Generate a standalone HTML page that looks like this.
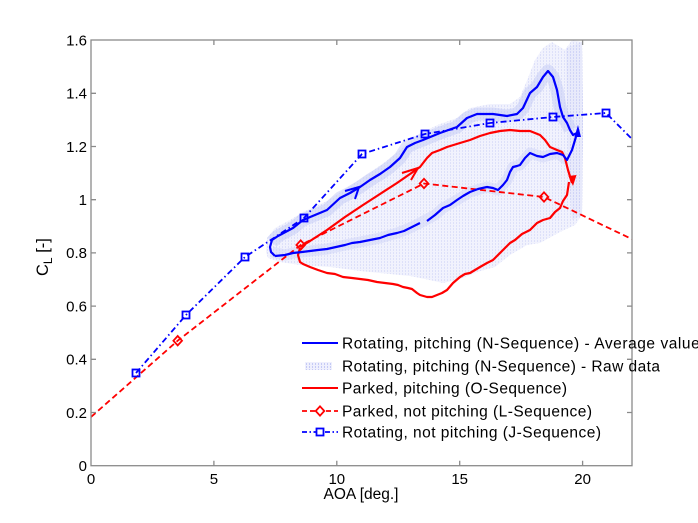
<!DOCTYPE html>
<html><head><meta charset="utf-8"><style>
html,body{margin:0;padding:0;background:#fff;}
svg{display:block;}
text{font-family:"Liberation Sans",Arial,sans-serif;fill:#000;}
</style></head><body>
<svg width="698" height="523" viewBox="0 0 698 523" xmlns="http://www.w3.org/2000/svg">
<defs>
<pattern id="vd" width="3" height="3" patternUnits="userSpaceOnUse">
<rect x="0" y="0" width="1" height="2" fill="#aab2f0" opacity="0.7"/>
</pattern>
<clipPath id="ax"><rect x="91" y="40" width="541" height="426"/></clipPath>
</defs>
<rect width="698" height="523" fill="#fff"/>

<g clip-path="url(#ax)">
<!-- raw data cloud -->
<polygon fill="#f1f2fd" points="266,252 267,238 275,228 290,220 303,212 327,201 345,189 365,176 385,162 400,150 420,133 440,124 457,118 470,108 490,104 510,104 520,97 528,78 535,60 543,48 552,42 565,50 572,40 582,42 583,120 582,215 575,225 560,232 540,243 527,245 510,255 495,267 477,272 460,279 443,283 425,279 410,276 380,273 360,271 330,267 300,265 280,262 268,258"/>
<polygon fill="url(#vd)" opacity="0.4" points="266,252 267,238 275,228 290,220 303,212 327,201 345,189 365,176 385,162 400,150 420,133 440,124 457,118 470,108 490,104 510,104 520,97 528,78 535,60 543,48 552,42 565,50 572,40 582,42 583,120 582,215 575,225 560,232 540,243 527,245 510,255 495,267 477,272 460,279 443,283 425,279 410,276 380,273 360,271 330,267 300,265 280,262 268,258"/>
<polygon fill="url(#vd)" opacity="0.8" points="566,48 582,42 583,120 582,215 572,220 568,160"/>
<polygon fill="#dfe2fa" opacity="0.5" points="566,48 582,42 583,120 582,215 572,220 568,160"/>
<polyline fill="none" stroke="#c3c9f5" stroke-width="13" opacity="0.5" stroke-linejoin="round" points="272,242 278,236 293,228 303,220 315,215 327,210 340,198 350,193 360,187 370,180 380,174 390,167 400,158 407,147 415,143 423,140 440,133 457,127 467,118 477,114 493,114 507,116 517,114 523,108 530,93 537,87 543,77 548,71 553,77 557,90 560,107 563,117 567,123 570,130"/>
<polyline fill="none" stroke="#ccd0f7" stroke-width="11" opacity="0.45" stroke-linejoin="round" points="272,252 285,255 293,253 310,251 327,249 345,245 360,242 380,238 397,233 410,228 420,223 435,215 443,208 457,200 470,192 487,187 498,190 507,180 513,167 520,165 530,153 543,157 557,153 567,160"/>

<!-- J sequence -->
<polyline fill="none" stroke="#0000ff" stroke-width="1.8" stroke-dasharray="6 3 1.5 3" points="136,373 186,315 245,257 304,218 362,154 425,134 490,123 553,117 606,113 640,147"/>
<!-- L sequence -->
<polyline fill="none" stroke="#ff0000" stroke-width="1.8" stroke-dasharray="6 3.5" points="91,417 177.7,340.7 300.7,245 424,183.5 544,197 640,243"/>

<!-- red loop (O sequence) -->
<polyline fill="none" stroke="#ff0000" stroke-width="2.2" stroke-linejoin="round" points="300,247 310,241 327,230 345,217 363,205 380,194 397,183 410,174 420,167 427,158 432,153 440,150 447,147 460,143 470,140 480,136 490,133 500,131 510,130 520,131 530,131 540,135 545,140 550,147 557,150 562,152 565,158 568,170 572,183"/>
<polyline fill="none" stroke="#ff0000" stroke-width="2.2" stroke-linejoin="round" points="569,182 567,195 563,201 560,208 555,212 550,218 543,220 537,223 530,230 522,234 515,240 510,243 503,250 497,256 493,260 487,263 480,267 470,273 465,274 460,277 453,283 447,290 442,293 437,295 432,297 427,297 420,295 417,293 412,289 408,288 403,287 398,285 393,284 385,283 377,282 368,280 360,279 352,278 343,277 335,274 327,273 318,270 310,267 303,264 300,262 298,255 300,248"/>
<polyline fill="none" stroke="#ff0000" stroke-width="2" points="402,173 418,168 411,180"/>
<polygon fill="#ff0000" points="573,186 568.5,176 576.5,175"/>

<!-- blue loop (N sequence average) -->
<polyline fill="none" stroke="#0000ff" stroke-width="2.2" stroke-linejoin="round" points="275,256 271,252 270,247 272,240 278,236 293,228 303,220 315,215 327,210 340,198 350,193 360,187 370,180 380,174 390,167 400,158 407,147 415,143 423,140 440,133 457,127 467,118 477,114 493,114 507,116 517,114 523,108 530,93 537,87 543,77 548,71 553,77 557,90 560,107 563,117 567,123 570,130 573,135 577,133"/>
<polyline fill="none" stroke="#0000ff" stroke-width="2.2" stroke-linejoin="round" points="275,256 285,255 293,253 302,252 310,251 318,250 327,249 336,247 345,245 352,243 360,242 370,240 380,238 388,235 397,233 404,231 410,228 416,225 420,223"/>
<polyline fill="none" stroke="#0000ff" stroke-width="2.2" stroke-linejoin="round" points="427,221 435,215 443,208 450,205 457,200 463,196 470,192 478,189 487,187 493,188 498,190 503,185 507,180 510,172 513,167 517,166 520,165 525,158 530,153 537,156 543,157 550,154 557,153 563,155 567,160 572,150 575,140 577,133"/>
<polyline fill="none" stroke="#0000ff" stroke-width="2" points="345,191 359,187 355,199"/>
<polygon fill="#0000ff" points="578,125 574.5,137 581,137"/>

<!-- J markers -->
<g fill="none" stroke="#0000ff" stroke-width="1.8">
<rect x="132.5" y="369.5" width="7" height="7"/>
<rect x="182.5" y="311.5" width="7" height="7"/>
<rect x="241.5" y="253.5" width="7" height="7"/>
<rect x="300.5" y="214.5" width="7" height="7"/>
<rect x="358.5" y="150.5" width="7" height="7"/>
<rect x="421.5" y="130.5" width="7" height="7"/>
<rect x="486.5" y="119.5" width="7" height="7"/>
<rect x="549.5" y="113.5" width="7" height="7"/>
<rect x="602.5" y="109.5" width="7" height="7"/>
</g>
<!-- L markers -->
<g fill="none" stroke="#ff0000" stroke-width="1.8">
<polygon points="177.7,336 182,340.7 177.7,345.4 173.4,340.7"/>
<polygon points="300.7,240.3 305,245 300.7,249.7 296.4,245"/>
<polygon points="424,178.8 428.3,183.5 424,188.2 419.7,183.5"/>
<polygon points="544,192.3 548.3,197 544,201.7 539.7,197"/>
</g>
</g>

<!-- axes -->
<g stroke="#8a8a8a" stroke-width="1.3" fill="none">
<rect x="91" y="40" width="541" height="425.7"/>
<path d="M91,412.5h5M91,359.3h5M91,306.1h5M91,252.9h5M91,199.7h5M91,146.5h5M91,93.3h5
M632,412.5h-5M632,359.3h-5M632,306.1h-5M632,252.9h-5M632,199.7h-5M632,146.5h-5M632,93.3h-5
M213.9,465.7v-5M336.8,465.7v-5M459.7,465.7v-5M582.6,465.7v-5
M213.9,40v5M336.8,40v5M459.7,40v5M582.6,40v5"/>
</g>

<!-- tick labels -->
<g font-size="15" text-anchor="end">
<text x="87" y="471">0</text>
<text x="87" y="417.8">0.2</text>
<text x="87" y="364.6">0.4</text>
<text x="87" y="311.4">0.6</text>
<text x="87" y="258.2">0.8</text>
<text x="87" y="205">1</text>
<text x="87" y="151.8">1.2</text>
<text x="87" y="98.6">1.4</text>
<text x="87" y="45.4">1.6</text>
</g>
<g font-size="15" text-anchor="middle">
<text x="91" y="484">0</text>
<text x="213.9" y="484">5</text>
<text x="336.8" y="484">10</text>
<text x="459.7" y="484">15</text>
<text x="582.6" y="484">20</text>
</g>

<text x="361" y="499" font-size="15.5" text-anchor="middle">AOA [deg.]</text>
<text transform="translate(48,276) rotate(-90)" font-size="16.5">C<tspan font-size="12" dy="4">L</tspan><tspan dy="-4"> [-]</tspan></text>

<!-- legend -->
<line x1="302" y1="343" x2="338" y2="343" stroke="#0000ff" stroke-width="2"/>
<rect x="305" y="362" width="27" height="8" fill="url(#vd)"/>
<rect x="305" y="362" width="27" height="8" fill="#c9cef7" opacity="0.3"/>
<line x1="302" y1="388" x2="338" y2="388" stroke="#ff0000" stroke-width="2"/>
<line x1="302" y1="411" x2="338" y2="411" stroke="#ff0000" stroke-width="1.8" stroke-dasharray="5 3"/>
<polygon points="320,406.3 324.3,411 320,415.7 315.7,411" fill="#fff" stroke="#ff0000" stroke-width="1.8"/>
<line x1="302" y1="432" x2="338" y2="432" stroke="#0000ff" stroke-width="1.8" stroke-dasharray="5 2.5 1.5 2.5"/>
<rect x="316.5" y="428.5" width="7" height="7" fill="#fff" stroke="#0000ff" stroke-width="1.8"/>

<g font-size="15.5">
<text x="342" y="348.5" textLength="366" lengthAdjust="spacing">Rotating, pitching (N-Sequence) - Average values</text>
<text x="342" y="371.5" textLength="318" lengthAdjust="spacing">Rotating, pitching (N-Sequence) - Raw data</text>
<text x="342" y="393.5" textLength="225" lengthAdjust="spacing">Parked, pitching (O-Sequence)</text>
<text x="342" y="416.5" textLength="250" lengthAdjust="spacing">Parked, not pitching (L-Sequence)</text>
<text x="342" y="437.5" textLength="259" lengthAdjust="spacing">Rotating, not pitching (J-Sequence)</text>
</g>
</svg>
</body></html>
